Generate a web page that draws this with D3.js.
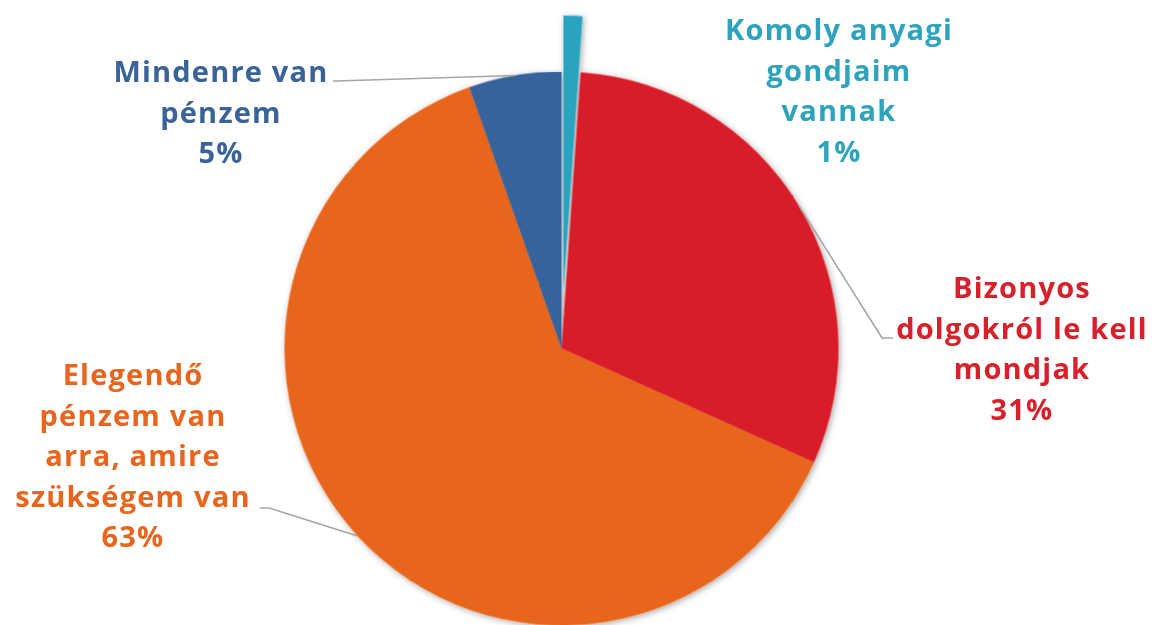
<!DOCTYPE html>
<html>
<head>
<meta charset="utf-8">
<script src="https://cdn.jsdelivr.net/npm/d3@7"></script>
<style>
  body { margin: 0; background: #fff; }
  svg { display: block; }
</style>
</head>
<body>
<div id="chart"></div>
<script>
// Pie chart - pénzügyi helyzet (financial situation)

// Slice data, clockwise from 12 o'clock
const categories = [
    'Komoly anyagi gondjaim vannak',
    'Bizonyos dolgokról le kell mondjak',
    'Elegendő pénzem van arra, amire szükségem van',
    'Mindenre van pénzem'
];
const values = [1.1, 30.65, 62.85, 5.4];
const percentLabels = ['1%', '31%', '63%', '5%'];

// Label text split into lines as in the original
const labelLines = [
    ['Komoly anyagi', 'gondjaim', 'vannak'],
    ['Bizonyos', 'dolgokról le kell', 'mondjak'],
    ['Elegendő', 'pénzem van', 'arra, amire', 'szükségem van'],
    ['Mindenre van', 'pénzem']
];

const colors = ['#2ba3bf', '#d91f29', '#e8651e', '#37629b'];
const textColors = ['#2ea3be', '#d8202a', '#e8651e', '#3a6399'];

const width = 1157, height = 625;
const cx = 561.5, cy = 348.5, radius = 277;
const explode = [56, 0, 0, 0];

// label layout: centre x and first baseline; leader end point (null = no leader)
const labelLayout = [
    { x: 839, y: 40, leader: null },
    { x: 1022, y: 298, leader: [[893, 338], [882, 338]] },
    { x: 133, y: 385, leader: [[260, 508], [269, 508]] },
    { x: 221, y: 82, leader: [[333, 81], [336, 81]] }
];
const lineHeight = 40.5;

const svg = d3.select('#chart').append('svg')
    .attr('width', width)
    .attr('height', height);

const defs = svg.append('defs');
const shadow = defs.append('filter')
    .attr('id', 'shadow')
    .attr('x', '-10%').attr('y', '-10%')
    .attr('width', '120%').attr('height', '120%');
shadow.append('feDropShadow')
    .attr('dx', 1.5).attr('dy', 1.5)
    .attr('stdDeviation', 3)
    .attr('flood-color', '#000')
    .attr('flood-opacity', 0.35);

const pie = d3.pie().sort(null).value(d => d)(values);
const arc = d3.arc().innerRadius(0).outerRadius(radius);
const edgeArc = d3.arc().innerRadius(radius).outerRadius(radius);

const g = svg.append('g')
    .attr('transform', `translate(${cx},${cy})`);

// Leader lines (drawn under the slices)
const leaders = svg.append('g');
pie.forEach((d, i) => {
    const lay = labelLayout[i];
    if (!lay.leader) return;
    const c = edgeArc.centroid(d);
    const pts = [lay.leader[0], lay.leader[1], [cx + c[0], cy + c[1]]];
    leaders.append('path')
        .attr('d', d3.line()(pts))
        .attr('fill', 'none')
        .attr('stroke', '#a6a6a6')
        .attr('stroke-width', 1.6);
});

const slices = g.append('g').attr('filter', 'url(#shadow)');
slices.selectAll('path')
    .data(pie)
    .enter().append('path')
    .attr('transform', (d, i) => {
        const a = (d.startAngle + d.endAngle) / 2;
        const off = explode[i];
        return `translate(${off * Math.sin(a)},${-off * Math.cos(a)})`;
    })
    .attr('d', arc)
    .attr('fill', (d, i) => colors[i]);

// Labels
const labels = svg.append('g')
    .attr('font-family', '"Open Sans", "DejaVu Sans", sans-serif')
    .attr('font-weight', 700)
    .attr('font-size', '29px')
    .attr('letter-spacing', '1.2px')
    .attr('text-anchor', 'middle');

labelLines.forEach((lines, i) => {
    const lay = labelLayout[i];
    const t = labels.append('text')
        .attr('fill', textColors[i]);
    lines.concat([percentLabels[i]]).forEach((ln, j) => {
        t.append('tspan')
            .attr('x', lay.x)
            .attr('y', lay.y + j * lineHeight)
            .text(ln);
    });
});
</script>
</body>
</html>
